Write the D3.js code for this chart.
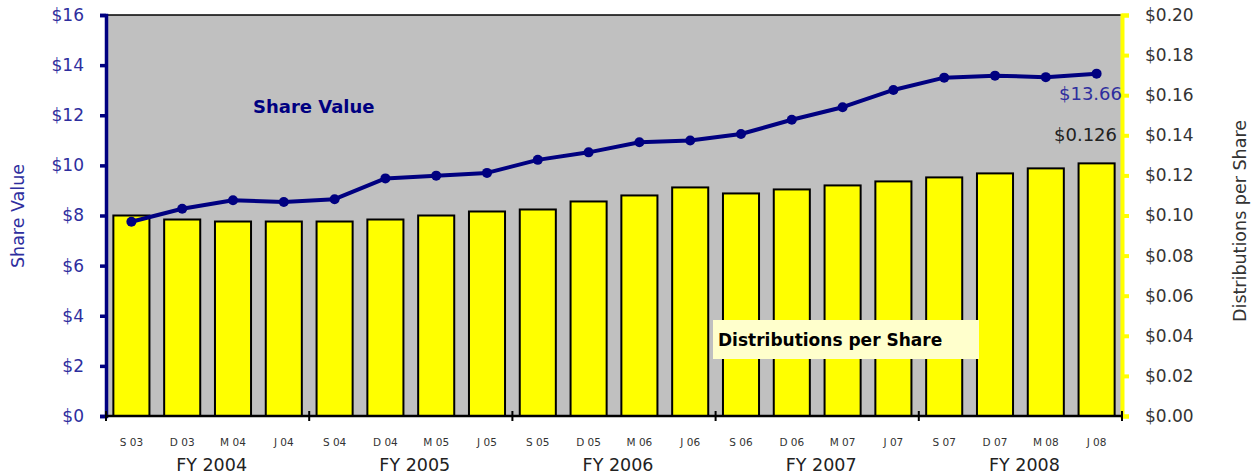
<!DOCTYPE html>
<html><head><meta charset="utf-8">
<script src="https://cdn.jsdelivr.net/npm/d3@7/dist/d3.min.js"></script>
<style>body{margin:0;background:#fff;} svg{display:block;} text{font-family:"DejaVu Sans",sans-serif;}</style>
</head><body>
<svg id="c" width="1258" height="475"></svg>
<script>
const categories = ["S 03","D 03","M 04","J 04","S 04","D 04","M 05","J 05","S 05","D 05","M 06","J 06","S 06","D 06","M 07","J 07","S 07","D 07","M 08","J 08"];
const fiscalYears = ["FY 2004","FY 2005","FY 2006","FY 2007","FY 2008"];
const distributions = [0.100,0.098,0.097,0.097,0.097,0.098,0.100,0.102,0.103,0.107,0.110,0.114,0.111,0.113,0.115,0.117,0.119,0.121,0.1235,0.126];
const shareValue = [7.75,8.27,8.61,8.54,8.65,9.48,9.59,9.70,10.22,10.52,10.92,10.99,11.25,11.82,12.32,13.01,13.50,13.58,13.52,13.66];
const leftTicks = [0,2,4,6,8,10,12,14,16];
const rightTicks = [0,0.02,0.04,0.06,0.08,0.10,0.12,0.14,0.16,0.18,0.20];

const svg = d3.select("#c");
const L = 106, R = 1122, T = 15, B = 416;
const x = d3.scaleBand().domain(categories).range([L, R]).paddingInner(0.29).paddingOuter(0.145);
const yL = d3.scaleLinear().domain([0,16]).range([B,T]);
const yR = d3.scaleLinear().domain([0,0.20]).range([B,T]);

svg.append("rect").attr("x",L).attr("y",T).attr("width",R-L).attr("height",B-T).attr("fill","#c0c0c0");
// top border
svg.append("line").attr("x1",L).attr("x2",R).attr("y1",T).attr("y2",T).attr("stroke","#000").attr("stroke-width",1.5);

// bars
svg.append("g").selectAll("rect").data(distributions).join("rect")
  .attr("x",(d,i)=>x(categories[i])).attr("width",x.bandwidth())
  .attr("y",d=>yR(d)).attr("height",d=>B-yR(d))
  .attr("fill","#ffff00").attr("stroke","#000").attr("stroke-width",2);

// line
const cx = i => x(categories[i]) + x.bandwidth()/2;
svg.append("path").datum(shareValue)
  .attr("d", d3.line().x((d,i)=>cx(i)).y(d=>yL(d)))
  .attr("fill","none").attr("stroke","#000080").attr("stroke-width",4).attr("stroke-linejoin","round");
svg.append("g").selectAll("circle").data(shareValue).join("circle")
  .attr("cx",(d,i)=>cx(i)).attr("cy",d=>yL(d)).attr("r",5).attr("fill","#000080");

// left axis
const gl = svg.append("g").attr("transform",`translate(${L},0)`)
  .call(d3.axisLeft(yL).tickValues(leftTicks).tickFormat(d=>"$"+d).tickSize(6).tickPadding(16));
gl.select(".domain").attr("stroke","#000080").attr("stroke-width",3.5);
gl.selectAll(".tick line").attr("stroke","#000080").attr("stroke-width",3.5);
gl.selectAll(".tick text").attr("fill","#2e2e9e").attr("font-size",17).attr("font-family","DejaVu Sans");

// right axis
const gr = svg.append("g").attr("transform",`translate(${R},0)`)
  .call(d3.axisRight(yR).tickValues(rightTicks).tickFormat(d=>"$"+d.toFixed(2)).tickSize(7).tickPadding(16));
gr.select(".domain").attr("stroke","#ffff00").attr("stroke-width",4);
gr.selectAll(".tick line").attr("stroke","#ffff00").attr("stroke-width",4);
gr.selectAll(".tick text").attr("fill","#333").attr("font-size",17).attr("font-family","DejaVu Sans");

// bottom axis
svg.append("line").attr("x1",L).attr("x2",R+1).attr("y1",B).attr("y2",B).attr("stroke","#000").attr("stroke-width",2.5);
const bounds = d3.range(0,categories.length+1,4);
svg.append("g").selectAll("line").data(bounds).join("line")
  .attr("x1",i=> i<categories.length ? x(categories[i]) - x.step()*x.paddingOuter()*1 : R)
  .attr("x2",i=> i<categories.length ? x(categories[i]) - x.step()*x.paddingOuter()*1 : R)
  .attr("y1",B-5).attr("y2",B+5).attr("stroke","#000").attr("stroke-width",2);

svg.append("g").selectAll("text").data(categories).join("text")
  .attr("x",(d,i)=>cx(i)).attr("y",446).attr("text-anchor","middle")
  .attr("font-size",10.5).attr("fill","#333").text(d=>d);
svg.append("g").selectAll("text").data(fiscalYears).join("text")
  .attr("x",(d,i)=>L + x.step()*(i*4+2)+4).attr("y",471).attr("text-anchor","middle")
  .attr("font-size",17.5).attr("fill","#222").text(d=>d);

// axis titles
svg.append("text").attr("transform","translate(24,216) rotate(-90)").attr("text-anchor","middle")
  .attr("font-size",17.5).attr("fill","#2e2e9e").text("Share Value");
svg.append("text").attr("transform","translate(1246,221) rotate(-90)").attr("text-anchor","middle")
  .attr("font-size",17.5).attr("fill","#333").text("Distributions per Share");

// annotations
svg.append("text").attr("x",253).attr("y",113).attr("font-size",18).attr("font-weight","bold").attr("fill","#000080").text("Share Value");
svg.append("text").attr("x",R).attr("y",100).attr("text-anchor","end").attr("font-size",18).attr("fill","#2e2e9e").text("$"+shareValue[shareValue.length-1].toFixed(2));
svg.append("text").attr("x",1117).attr("y",141).attr("text-anchor","end").attr("font-size",18).attr("fill","#222").text("$"+distributions[distributions.length-1].toFixed(3));

svg.append("rect").attr("x",713).attr("y",320).attr("width",266).attr("height",39).attr("fill","#ffffcc");
svg.append("text").attr("x",718).attr("y",346).attr("font-size",17).attr("font-weight","bold").attr("fill","#000").text("Distributions per Share");
</script>
</body></html>
